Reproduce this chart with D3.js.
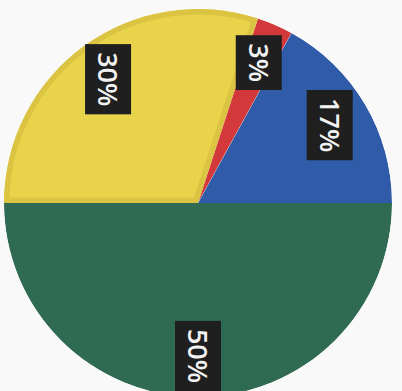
<!DOCTYPE html>
<html>
<head>
<meta charset="utf-8">
<script src="https://cdn.jsdelivr.net/npm/d3@7"></script>
<style>
  body { margin: 0; background: #f9f9f9; }
  svg { display: block; }
</style>
</head>
<body>
<div id="pie"></div>
<script>
// data
const categories = ["yellow", "red", "blue", "green"];
const values = [30, 3, 17, 50];
const labels = ["30%", "3%", "17%", "50%"];
const colors = ["#e8d34b", "#d3383a", "#2f5ba9", "#2f6a52"];

const width = 402, height = 391;
const cx = 198, cy = 203, radius = 194;

const svg = d3.select("#pie")
    .append("svg")
      .attr("width", width)
      .attr("height", height);

const g = svg.append("g")
    .attr("transform", "translate(" + cx + "," + cy + ")");

// start at the left edge, go clockwise
const pie = d3.pie()
    .sort(null)
    .startAngle(-Math.PI / 2)
    .endAngle(3 * Math.PI / 2)
    .value((d, i) => values[i]);

const arcs = pie(categories);

const arc = d3.arc().innerRadius(0).outerRadius(radius);
const labelArc = d3.arc().innerRadius(153).outerRadius(153);

// clip paths so the yellow slice's darker edge stays inside it
const defs = svg.append("defs");
arcs.forEach((a, i) => {
  defs.append("clipPath").attr("id", "clip" + i)
    .append("path").attr("d", arc(a));
});

g.selectAll("path.slice")
  .data(arcs)
  .enter()
  .append("path")
    .attr("class", "slice")
    .attr("d", arc)
    .attr("clip-path", (d, i) => "url(#clip" + i + ")")
    .style("fill", (d, i) => colors[i])
    .style("stroke", (d, i) => i == 0 ? "#dcc443" : "none")
    .style("stroke-width", 11);

// rotated label boxes
const lab = g.selectAll("g.label")
  .data(arcs)
  .enter()
  .append("g")
    .attr("class", "label")
    .attr("transform", d => {
      const c = labelArc.centroid(d);
      return "translate(" + c[0] + "," + c[1] + ") rotate(90)";
    });

lab.append("rect").style("fill", "#1e1f1e");

lab.append("text")
    .attr("text-anchor", "middle")
    .attr("dy", "0.36em")
    .style("font-family", "'Open Sans', sans-serif")
    .style("font-weight", 600)
    .style("font-size", "27px")
    .style("fill", "#f2f2f2")
    .text((d, i) => labels[i]);

lab.each(function() {
  const t = d3.select(this).select("text").node();
  const w = t.getComputedTextLength() + 16;
  d3.select(this).select("rect")
    .attr("x", -w / 2)
    .attr("y", -23)
    .attr("width", w)
    .attr("height", 46);
});
</script>
</body>
</html>
